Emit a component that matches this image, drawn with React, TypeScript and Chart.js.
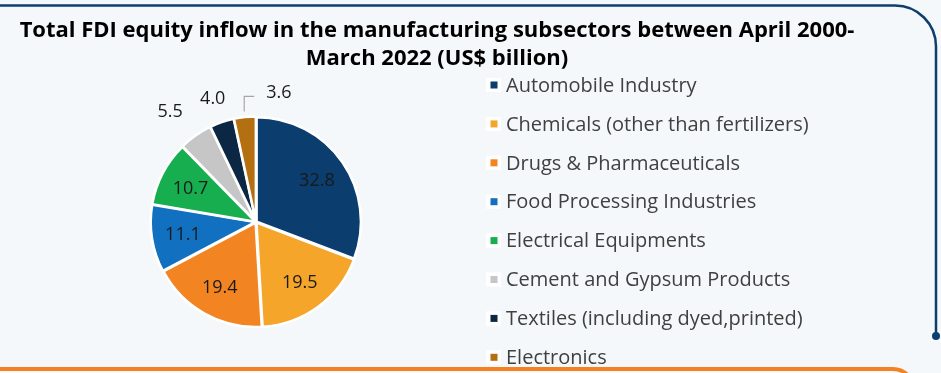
import React, { useEffect, useRef } from "react";
import { Chart, registerables } from "chart.js";

Chart.register(...registerables);

const categories = [
  "Automobile Industry",
  "Chemicals (other than fertilizers)",
  "Drugs & Pharmaceuticals",
  "Food Processing Industries",
  "Electrical Equipments",
  "Cement and Gypsum Products",
  "Textiles (including dyed,printed)",
  "Electronics",
];
const values = [32.8, 19.5, 19.4, 11.1, 10.7, 5.5, 4.0, 3.6];
const colors = ["#0b3d6f", "#f5a52a", "#f28522", "#1170c0", "#17ae4f", "#c6c6c6", "#0c2744", "#b46f10"];
const titleLines = [
  "Total FDI equity inflow in the manufacturing subsectors between April 2000-",
  "March 2022 (US$ billion)",
];

const W = 941;
const H = 373;
const FONT = "'Open Sans', Lato, sans-serif";

const framePlugin = {
  id: "frame",
  beforeDraw(chart: any) {
    const ctx = chart.ctx;
    ctx.save();
    ctx.fillStyle = "#f5f8fa";
    ctx.fillRect(0, 0, W, H);
    // blue frame line
    ctx.strokeStyle = "#0d3f6e";
    ctx.lineWidth = 2.5;
    ctx.beginPath();
    ctx.moveTo(0, 5.5);
    ctx.lineTo(895, 5.5);
    ctx.arcTo(936, 5.5, 936, 47, 41);
    ctx.lineTo(936, 336);
    ctx.stroke();
    ctx.fillStyle = "#0d3f6e";
    ctx.beginPath();
    ctx.arc(936, 336, 4, 0, Math.PI * 2);
    ctx.fill();
    // orange line
    ctx.strokeStyle = "#f58220";
    ctx.lineWidth = 4;
    ctx.beginPath();
    ctx.moveTo(0, 369);
    ctx.lineTo(893, 369);
    ctx.arcTo(914, 369, 914, 392, 21);
    ctx.stroke();
    ctx.restore();
  },
};

const textPlugin = {
  id: "texts",
  afterDraw(chart: any) {
    const ctx = chart.ctx;
    ctx.save();
    // title
    ctx.fillStyle = "#000000";
    ctx.font = `bold 22px ${FONT}`;
    ctx.textAlign = "center";
    ctx.textBaseline = "alphabetic";
    ctx.fillText(titleLines[0], 437, 37);
    ctx.fillText(titleLines[1], 437, 65);

    // legend
    ctx.textAlign = "left";
    ctx.textBaseline = "middle";
    ctx.font = `20px ${FONT}`;
    categories.forEach((c, i) => {
      const y = 85 + i * 38.9;
      ctx.fillStyle = "#ffffff";
      ctx.fillRect(486, y - 7, 15, 14);
      ctx.fillStyle = colors[i];
      ctx.fillRect(490.5, y - 3.5, 7, 7);
      ctx.fillStyle = "#404040";
      ctx.fillText(c, 506, y + 1);
    });

    // data labels
    const meta = chart.getDatasetMeta(0);
    const total = values.reduce((a, b) => a + b, 0);
    ctx.font = `18px ${FONT}`;
    ctx.fillStyle = "#1a1a1a";
    ctx.textAlign = "center";
    ctx.textBaseline = "middle";
    meta.data.forEach((arc: any, i: number) => {
      const p = arc.getProps(["x", "y", "startAngle", "endAngle", "outerRadius"], true);
      const mid = (p.startAngle + p.endAngle) / 2;
      const R = p.outerRadius;
      const share = values[i] / total;
      const txt = values[i].toFixed(1);
      if (share > 0.07) {
        const r = R * 0.71;
        ctx.fillStyle = "#1a1a1a";
        ctx.textAlign = "center";
        ctx.fillText(txt, p.x + Math.cos(mid) * r, p.y + Math.sin(mid) * r + 1);
      } else if (i < values.length - 1) {
        const r = R * (i === values.length - 3 ? 1.36 : 1.28);
        const a = mid - (i === values.length - 3 ? 0.04 : 0);
        ctx.fillStyle = "#1a1a1a";
        ctx.textAlign = "center";
        ctx.fillText(txt, p.x + Math.cos(a) * r, p.y + Math.sin(a) * r + 3);
      } else {
        const r0 = R + 7;
        const sx = p.x + Math.cos(mid) * r0;
        const sy = p.y + Math.sin(mid) * r0;
        ctx.strokeStyle = "#a6a6a6";
        ctx.lineWidth = 1.2;
        ctx.beginPath();
        ctx.moveTo(sx, sy);
        ctx.lineTo(sx, sy - 15);
        ctx.lineTo(sx + 10, sy - 15);
        ctx.stroke();
        ctx.fillStyle = "#1a1a1a";
        ctx.textAlign = "left";
        ctx.fillText(txt, sx + 22, sy - 19);
      }
    });
    ctx.restore();
  },
};

export default function App() {
  const ref = useRef<HTMLCanvasElement>(null);
  useEffect(() => {
    if (!ref.current) return;
    const chart = new Chart(ref.current, {
      type: "pie",
      data: {
        labels: categories,
        datasets: [
          {
            data: values,
            backgroundColor: colors,
            borderColor: "#ffffff",
            borderWidth: 2.5,
            offset: 3,
            hoverOffset: 0,
          },
        ],
      },
      options: {
        responsive: false,
        devicePixelRatio: 1,
        animation: false,
        rotation: 0,
        layout: { padding: { left: 149, right: 578, top: 115, bottom: 44 } },
        plugins: {
          legend: { display: false },
          tooltip: { enabled: false },
          title: { display: false },
        },
      },
      plugins: [framePlugin, textPlugin],
    });
    return () => chart.destroy();
  }, []);
  return (
    <div style={{ position: "fixed", left: 0, top: 0, width: W, height: H, background: "#f5f8fa" }}>
      <canvas ref={ref} width={W} height={H} style={{ width: W, height: H, display: "block" }} />
    </div>
  );
}
